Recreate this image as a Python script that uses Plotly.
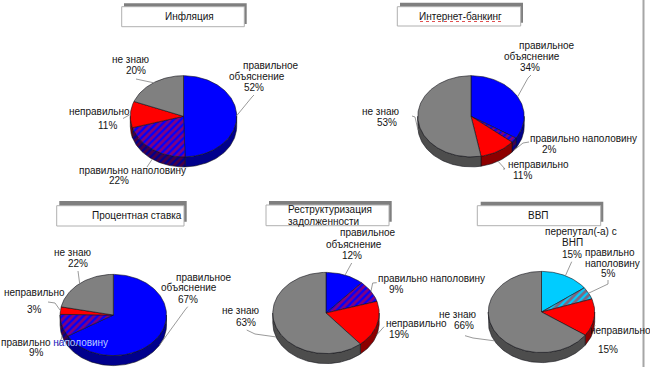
import numpy as np
import plotly.graph_objects as go

# ---------- data ----------
CHART_TITLES = [["Инфляция"], ["Интернет-банкинг"], ["Процентная ставка"],
                ["Реструктуризация", "задолженности"], ["ВВП"]]
CATEGORIES_A = ["правильное объяснение", "правильно наполовину", "неправильно", "не знаю"]
CATEGORIES_B = ["перепутал(-а) с ВНП", "правильно наполовину", "неправильно", "не знаю"]

INFLATION = [52, 22, 11, 20]
ONLINE_BANKING = [34, 2, 11, 53]
INTEREST_RATE = [67, 9, 3, 22]
RESTRUCTURING = [12, 9, 19, 63]
GDP = [15, 5, 15, 66]
SERIES = [INFLATION, ONLINE_BANKING, INTEREST_RATE, RESTRUCTURING, GDP]

# ---------- layout / style ----------
FONT = "Liberation Sans"
TXT = "#141414"
CENTERS = [(183.5, 116.3), (471, 116.3), (113.3, 315), (326, 313), (541.5, 312)]
RX, RY, DEPTH = 53.2, 40.6, 10
RED = ("#ff0000", "#8c0000")
GREY = ("#808080", "#4d4d4d")
BLUE = ("#0000ff", "#00008c")
CYAN = ("#00ccff", "#0080a0")
# (colour of solid first slice) per chart
FIRST = [BLUE, BLUE, BLUE, BLUE, CYAN]

BOXES = [  # white box x0,x1,y0,y1, shadow x0,x1,y0,y1
    (121.7, 244.3, 6.7, 26.7, 124, 246.7, 3.3, 24),
    (397.3, 520.7, 6.7, 26, 400, 523, 2.7, 22.7),
    (56.7, 184, 205.7, 226, 59.3, 186.7, 201, 221.7),
    (266, 389, 205, 225.7, 269, 391.7, 201, 221.7),
    (477.3, 600.7, 205.7, 225.7, 480.7, 603.3, 201.7, 221.7),
]
TITLE_POS = [[(189, 16.7, "center")], [(460, 16, "center")], [(136.7, 215.7, "center")],
             [(286, 209.7, "left"), (286, 221, "left")], [(538.7, 215.7, "center")]]

LABELS = [
    [("правильное", 271, 65), ("объяснение", 256.7, 76), ("52%", 254, 87.7),
     ("не знаю", 130.7, 59), ("20%", 136, 70.7),
     ("неправильно", 99.3, 111), ("11%", 107.3, 125.7),
     ("правильно наполовину", 132.7, 170), ("22%", 119, 180.5)],
    [("правильное", 546.7, 45.7), ("объяснение", 532.3, 56), ("34%", 530, 67.7),
     ("правильно наполовину", 583.3, 138.3), ("2%", 549.3, 149.3),
     ("неправильно", 538.3, 164), ("11%", 522, 175),
     ("не знаю", 381, 111.7), ("53%", 386.7, 122.3)],
    [("не знаю", 72.7, 252.3), ("22%", 78.3, 263.3),
     ("правильное", 204.3, 277), ("объяснение", 189.3, 287.7), ("67%", 187.7, 299),
     ("неправильно", 34.3, 292.3), ("3%", 34, 309),
     ("правильно <span style='color:#2020c0'>на</span><span style='color:#b8c8ff'>половину</span>", 54.3, 342),
     ("9%", 36.7, 352.7)],
    [("правильное", 368.3, 232.7), ("объяснение", 354, 244), ("12%", 352.3, 255),
     ("правильно наполовину", 431, 278.3), ("9%", 396.7, 289.3),
     ("неправильно", 416, 323.3), ("19%", 399.3, 334.3),
     ("не знаю", 241, 310.7), ("63%", 246, 322)],
    [("перепутал(-а) с", 581, 231.7), ("ВНП", 572, 242.7), ("15%", 572, 254),
     ("правильно", 610, 252.7), ("наполовину", 612.3, 263.7), ("5%", 608.3, 273.3),
     ("неправильно", 620.7, 330.7), ("15%", 608, 349.3),
     ("не знаю", 458, 314), ("66%", 464, 325.3)],
]

# leader elbows, one list per slice, ordered from label side to pie side
ELBOWS = [
    [[(254, 95), (252, 97)], [(147, 167)], [(123, 118.5)], [(136, 79)]],
    [[(531, 75), (528, 78)], [(529, 142), (523, 143)], [(503, 169), (505, 169)], [(412, 116), (415, 117)]],
    [[(187.7, 306.7), (185, 310)], [(58, 346), (61.7, 338)], [(48, 302), (55, 303)], [(78, 271)]],
    [[(351.7, 263)], [(376.7, 282.7), (372.7, 283)], [(384, 326.7)], [(246.7, 330), (255, 334)]],
    [[(571.7, 261.7)], [(608, 280), (608, 284)], [(595, 325)], [(465, 335.7), (473, 338)]],
]


def style(poly_x, poly_y, color, hatch=None):
    kw = dict(x=poly_x, y=poly_y, mode="lines", fill="toself", hoverinfo="skip",
              showlegend=False, line=dict(color="#101018", width=0.6))
    if hatch is None:
        kw["fillcolor"] = color
    else:
        kw["fillcolor"] = hatch[1]
        kw["fillpattern"] = dict(shape="/", size=5, solidity=0.55, fgcolor=hatch[0], bgcolor=hatch[1])
    return go.Scatter(**kw)


fig = go.Figure()
leaders = []
faces = []
walls = []
for idx, values in enumerate(SERIES):
    cx, cy = CENTERS[idx]
    total = sum(values)
    edges = np.cumsum([0] + values) / total * 2 * np.pi
    first = FIRST[idx]
    for s in range(len(values)):
        a0, a1 = edges[s], edges[s + 1]
        if s == 0:
            col, hatch, wall_hatch = first, None, None
        elif s == 1:
            col, hatch, wall_hatch = None, ("#ff0000", first[0]), ("#8c0000", first[1])
        elif s == 2:
            col, hatch, wall_hatch = RED, None, None
        else:
            col, hatch, wall_hatch = GREY, None, None

        t = np.linspace(a0, a1, max(int((a1 - a0) * 40), 3))
        fx = np.r_[cx, cx + RX * np.sin(t), cx]
        fy = np.r_[cy, cy - RY * np.cos(t), cy]
        faces.append(style(fx, fy, col[0] if col else None, hatch))

        w0, w1 = max(a0, np.pi / 2), min(a1, 3 * np.pi / 2)
        if w1 > w0:
            wt = np.linspace(w0, w1, max(int((w1 - w0) * 40), 3))
            wx = cx + RX * np.sin(wt)
            wy = cy - RY * np.cos(wt)
            walls.append(style(np.r_[wx, wx[::-1], wx[0]], np.r_[wy, wy[::-1] + DEPTH, wy[0]],
                               col[1] if col else None, wall_hatch))

        mid = (a0 + a1) / 2
        ex = cx + RX * np.sin(mid)
        ey = cy - RY * np.cos(mid)
        if np.pi / 2 < mid < 3 * np.pi / 2:
            ey += DEPTH
        pts = ELBOWS[idx][s]
        leaders.append(go.Scatter(x=[p[0] for p in pts] + [ex], y=[p[1] for p in pts] + [ey],
                                  mode="lines", hoverinfo="skip", showlegend=False,
                                  line=dict(color="#808080", width=0.8)))

for tr in walls + faces + leaders:
    fig.add_trace(tr)

shapes = [dict(type="line", xref="x", yref="y", x0=643.5, x1=643.5, y0=0, y1=367,
               line=dict(color="#a6a6a6", width=2))]
for b in BOXES:
    shapes.append(dict(type="rect", xref="x", yref="y", x0=b[4], x1=b[5], y0=b[6], y1=b[7],
                       fillcolor="#7f7f7f", line=dict(width=0), layer="below"))
    shapes.append(dict(type="rect", xref="x", yref="y", x0=b[0], x1=b[1], y0=b[2], y1=b[3],
                       fillcolor="#ffffff", line=dict(color="#b0b0b0", width=1), layer="below"))
shapes.append(dict(type="line", xref="x", yref="y", x0=420, x1=501, y0=21.5, y1=21.5,
                   line=dict(color="#e05050", width=1, dash="dot")))

ann = []
for lines, positions in zip(CHART_TITLES, TITLE_POS):
    for title, (x, y, anchor) in zip(lines, positions):
        ann.append(dict(text=title, x=x, y=y, xref="x", yref="y", showarrow=False, xanchor=anchor,
                        yanchor="middle", align=anchor, font=dict(family=FONT, size=10, color=TXT)))
for group in LABELS:
    for text, x, y in group:
        ann.append(dict(text=text, x=x, y=y, xref="x", yref="y", showarrow=False, xanchor="center",
                        yanchor="middle", font=dict(family=FONT, size=10, color=TXT)))

fig.update_layout(
    width=650, height=367, margin=dict(l=0, r=0, t=0, b=0, pad=0),
    paper_bgcolor="#ffffff", plot_bgcolor="#ffffff", showlegend=False,
    xaxis=dict(range=[0, 650], visible=False, fixedrange=True),
    yaxis=dict(range=[367, 0], visible=False, fixedrange=True),
    shapes=shapes, annotations=ann,
)
fig.write_html("out.html", config={"displayModeBar": False},
               post_script="document.body.style.margin='0';document.documentElement.style.overflow='hidden';")
